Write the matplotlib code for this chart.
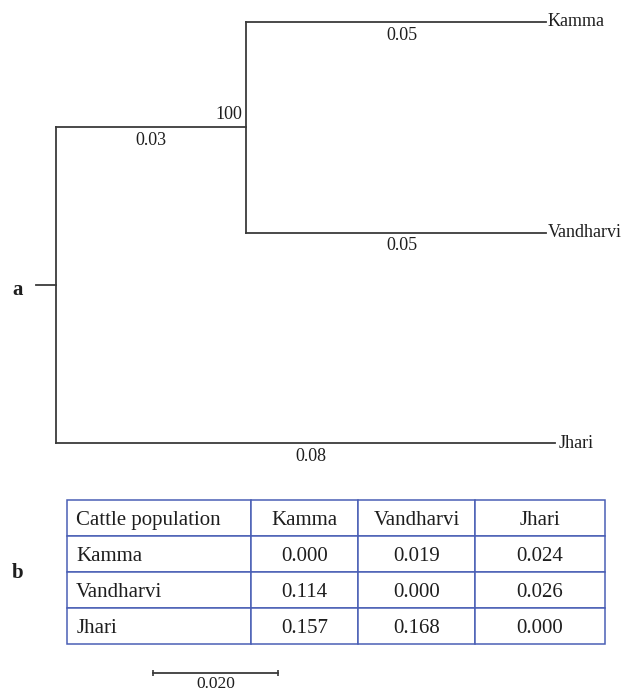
import matplotlib.pyplot as plt

plt.rcParams['font.family'] = ['Liberation Serif', 'DejaVu Serif']

# tree (branch lengths, scale bar = 0.020)
taxa = ["Kamma", "Vandharvi", "Jhari"]
inner_branch = 0.0303
leaf_branch = [0.0478, 0.0478, 0.0795]
leaf_labels = ["0.05", "0.05", "0.08"]
inner_label = "0.03"
bootstrap = "100"
root_stub = 0.0032
scale_len = 0.020
scale_label = "0.020"

# distance table
table_cols = ["Cattle population", "Kamma", "Vandharvi", "Jhari"]
table_rows = ["Kamma", "Vandharvi", "Jhari"]
dist = [[0.000, 0.019, 0.024],
        [0.114, 0.000, 0.026],
        [0.157, 0.168, 0.000]]

W, H = 624, 692
LINE = "#3a3a3a"
TXT = "#1e1e1e"
BLUE = "#4a5fb5"

fig = plt.figure(figsize=(W / 100, H / 100), dpi=100)

# tree axes spans the whole figure; root at px 56, 6275 px per unit
px_unit = 6275.0
px_leaf = 210.5
ax = fig.add_axes([0, 0, 1, 1])
ax.set_xlim(-56 / px_unit, (W - 56) / px_unit)
ax.set_ylim((H - 22) / px_leaf, -22 / px_leaf)
ax.axis("off")

lw = 1.3
y_leaf = [0, 1, 2]
y_inner = (y_leaf[0] + y_leaf[1]) / 2
y_root = (y_inner + y_leaf[2]) / 2

ax.plot([-root_stub, 0], [y_root, y_root], color=LINE, lw=lw)
ax.plot([0, 0], [y_inner, y_leaf[2]], color=LINE, lw=lw)
ax.plot([0, inner_branch], [y_inner, y_inner], color=LINE, lw=lw)
ax.plot([inner_branch, inner_branch], [y_leaf[0], y_leaf[1]], color=LINE, lw=lw)

starts = [inner_branch, inner_branch, 0]
for i, name in enumerate(taxa):
    x0 = starts[i]
    x1 = x0 + leaf_branch[i]
    ax.plot([x0, x1], [y_leaf[i], y_leaf[i]], color=LINE, lw=lw)
    ax.annotate(name, (x1, y_leaf[i]), xytext=(1 if i < 2 else 3, 0),
                textcoords="offset points", ha="left", va="center",
                fontsize=13, color=TXT)
    ax.annotate(leaf_labels[i], ((x0 + x1) / 2, y_leaf[i]), xytext=(4, -3.5),
                textcoords="offset points", ha="center", va="top",
                fontsize=13, color=TXT)

ax.annotate(inner_label, (inner_branch / 2, y_inner), xytext=(0, -3.5),
            textcoords="offset points", ha="center", va="top",
            fontsize=13, color=TXT)
ax.annotate(bootstrap, (inner_branch, y_inner), xytext=(-3, 3),
            textcoords="offset points", ha="right", va="bottom",
            fontsize=13, color=TXT)

# scale bar (label kept inside the figure)
sb_x = 0.0154
sb_y = (673 - 22) / px_leaf
ax.plot([sb_x, sb_x + scale_len], [sb_y, sb_y], color=LINE, lw=lw,
        marker="|", ms=5, mew=1.2)
fig.text((56 + (sb_x + scale_len / 2) * px_unit) / W, 1 - 688 / H, scale_label,
         fontsize=12.5, ha="center", va="baseline", color=TXT)

# panel letters
fig.text(18 / W, 1 - 295 / H, "a", fontsize=15, fontweight="bold",
         ha="center", va="baseline", color=TXT)
fig.text(18 / W, 1 - 578 / H, "b", fontsize=15, fontweight="bold",
         ha="center", va="baseline", color=TXT)

# table
tax = fig.add_axes([67 / W, (H - 644) / H, 538 / W, 144 / H])
tax.axis("off")
cells = [[r] + [f"{v:.3f}" for v in row] for r, row in zip(table_rows, dist)]
widths = [184, 107, 117, 130]
tbl = tax.table(cellText=cells, colLabels=table_cols, cellLoc="center",
                colLoc="center", colWidths=[w / sum(widths) for w in widths],
                bbox=[0, 0, 1, 1])
tbl.auto_set_font_size(False)
tbl.set_fontsize(15)
for (r, c), cell in tbl.get_celld().items():
    cell.set_edgecolor(BLUE)
    cell.set_linewidth(1.1)
    cell.get_text().set_color(TXT)
    cell.get_text().set_verticalalignment("center_baseline")
    if c == 0:
        cell.PAD = 0.05
        cell.get_text().set_horizontalalignment("left")

fig.savefig("out.png", dpi=100)
